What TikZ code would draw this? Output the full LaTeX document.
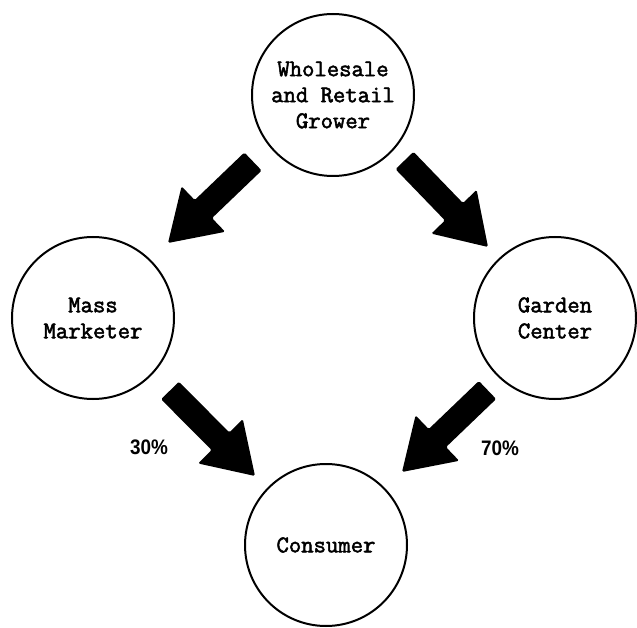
\documentclass[tikz,border=0pt]{standalone}
\usepackage{fontspec}
\usetikzlibrary{calc}
\newfontfamily\stagefont[FakeBold=2.2]{Latin Modern Mono}
\newfontfamily\sharefont[FakeStretch=0.9]{Liberation Sans}

\tikzset{
  stage/.style={circle, draw=black, line width=2pt, minimum size=162pt,
    inner sep=0pt, align=center,
    font=\stagefont\bfseries\fontsize{24}{26}\selectfont},
  share/.style={inner sep=0pt, font=\sharefont\bfseries\fontsize{21}{21}\selectfont},
  flow/.style={fill=black, rounded corners=1.5pt},
}

% block arrow: #1 name, #2 tail coordinate, #3 tip coordinate
\newcommand{\flowarrow}[3]{%
  \coordinate (#1-base) at ($(#3)!49pt!(#2)$);
  \fill[flow] ($(#2)!12.5pt!90:(#3)$)
    -- ($(#1-base)!12.5pt!90:(#3)$)
    -- ($(#1-base)!31.5pt!90:(#3)$)
    -- (#3)
    -- ($(#1-base)!31.5pt!-90:(#3)$)
    -- ($(#1-base)!12.5pt!-90:(#3)$)
    -- ($(#2)!12.5pt!-90:(#3)$) -- cycle;
}

\begin{document}
\begin{tikzpicture}[x=1pt, y=-1pt]
  \useasboundingbox (0,0) rectangle (637,628);

  % the four stages of the chain
  \node[stage] (grower)   at (333,95)  {Wholesale\\and Retail\\Grower};
  \node[stage] (mass)     at (93,318)  {Mass\\Marketer};
  \node[stage] (garden)   at (555,318) {Garden\\Center};
  \node[stage] (consumer) at (326,545) {Consumer};

  % arrow end points
  \coordinate (t1) at (253,161.5); \coordinate (h1) at (168,243);
  \coordinate (t2) at (404.5,160.5); \coordinate (h2) at (488,247);
  \coordinate (t3) at (170,390.5); \coordinate (h3) at (255,476);
  \coordinate (t4) at (487.5,390); \coordinate (h4) at (402,472);

  \flowarrow{a1}{t1}{h1}
  \flowarrow{a2}{t2}{h2}
  \flowarrow{a3}{t3}{h3}
  \flowarrow{a4}{t4}{h4}

  % market shares
  \node[share] (sharemass)   at (149,447) {30\%};
  \node[share] (sharegarden) at (500,448) {70\%};
\end{tikzpicture}
\end{document}
